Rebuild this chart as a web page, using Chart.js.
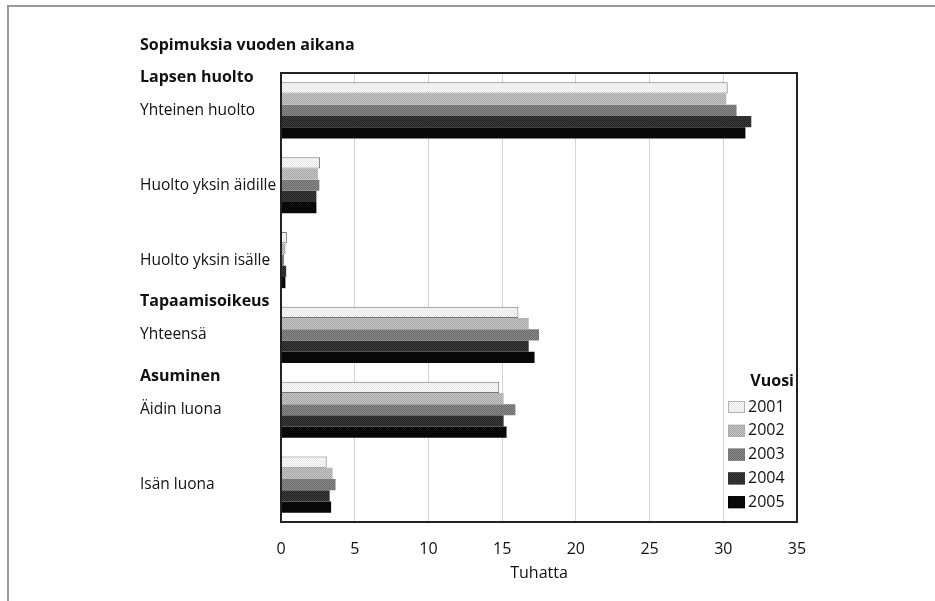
<!DOCTYPE html>
<html>
<head>
<meta charset="utf-8">
<script src="https://cdn.jsdelivr.net/npm/chart.js@4.4.1/dist/chart.umd.min.js"></script>
<style>
    html, body { margin: 0; padding: 0; background: #fff; }
    #wrap { position: relative; width: 935px; height: 601px; }
    #frame { position: absolute; left: 7px; top: 5px; right: 0; bottom: 0; border-left: 2px solid #999; border-top: 2px solid #999; }
    #chart { position: absolute; left: 0; top: 0; }
</style>
</head>
<body>
<div id="wrap">
    <div id="frame"></div>
    <canvas id="chart" width="935" height="601"></canvas>
</div>
<script>
const FONT = "'Open Sans', sans-serif";

const categories = ['Yhteinen huolto', 'Huolto yksin äidille', 'Huolto yksin isälle', 'Yhteensä', 'Äidin luona', 'Isän luona'];
const sectionTitles = ['Lapsen huolto', 'Tapaamisoikeus', 'Asuminen'];
const sectionStart = [0, 3, 4];
const years = ['2001', '2002', '2003', '2004', '2005'];

const v2001 = [30.3, 2.65, 0.4, 16.1, 14.8, 3.1];
const v2002 = [30.2, 2.5, 0.3, 16.8, 15.1, 3.5];
const v2003 = [30.9, 2.6, 0.2, 17.5, 15.9, 3.7];
const v2004 = [31.9, 2.4, 0.35, 16.8, 15.1, 3.3];
const v2005 = [31.5, 2.4, 0.3, 17.2, 15.3, 3.4];

const xTicks = [0, 5, 10, 15, 20, 25, 30, 35];

// rasteroidut harmaasävyt kuten painetussa kuvassa
function halftone(light, dark) {
    const c = document.createElement('canvas');
    c.width = 2; c.height = 2;
    const g = c.getContext('2d');
    g.fillStyle = light; g.fillRect(0, 0, 2, 2);
    g.fillStyle = dark; g.fillRect(0, 0, 1, 1); g.fillRect(1, 1, 1, 1);
    return g.createPattern(c, 'repeat');
}

const fills = [
    halftone('#fafafa', '#e6e6e6'),
    halftone('#c8c8c8', '#a4a4a4'),
    halftone('#8e8e8e', '#666666'),
    halftone('#3e3e3e', '#222222'),
    halftone('#0e0e0e', '#000000')
];
const borders = ['#777777', '#aaaaaa', '#777777', '#333333', '#000000'];
const seriesValues = [v2001, v2002, v2003, v2004, v2005];

const extras = {
    id: 'extras',
    afterDraw(chart) {
        const { ctx, chartArea: a, scales: { y } } = chart;
        ctx.save();
        // kuvaajan kehys
        ctx.strokeStyle = '#222';
        ctx.lineWidth = 2;
        ctx.strokeRect(a.left, a.top, a.right - a.left, a.bottom - a.top);

        ctx.fillStyle = '#111';
        ctx.textBaseline = 'middle';
        ctx.textAlign = 'left';
        ctx.font = `bold 16px ${FONT}`;
        ctx.fillText('Sopimuksia vuoden aikana', y.left, 45);
        sectionTitles.forEach((t, i) => {
            ctx.fillText(t, y.left, y.getPixelForValue(sectionStart[i]) - 33);
        });

        // selite
        const right = a.right - 3;
        ctx.textAlign = 'right';
        ctx.fillText('Vuosi', right, 381);
        ctx.font = `16px ${FONT}`;
        ctx.textAlign = 'left';
        chart.data.datasets.forEach((ds, i) => {
            const cy = 407 + i * 23.8;
            ctx.fillStyle = ds.backgroundColor;
            ctx.fillRect(728, cy - 6, 17, 12);
            ctx.strokeStyle = ds.borderColor;
            ctx.lineWidth = 1;
            ctx.setLineDash(i === 0 ? [1, 1] : []);
            ctx.strokeRect(728.5, cy - 5.5, 16, 11);
            ctx.setLineDash([]);
            ctx.fillStyle = '#111';
            ctx.fillText(ds.label, 748, cy);
        });
        ctx.restore();
    }
};

new Chart(document.getElementById('chart'), {
    type: 'bar',
    data: {
        labels: categories,
        datasets: years.map((yr, i) => ({
            label: yr,
            data: seriesValues[i],
            backgroundColor: fills[i],
            borderColor: borders[i],
            borderWidth: i === 0 ? 1 : 0,
            categoryPercentage: 0.75,
            barPercentage: 1.0
        }))
    },
    options: {
        indexAxis: 'y',
        responsive: false,
        animation: false,
        layout: { padding: { left: 140, top: 73, right: 138, bottom: 0 } },
        plugins: {
            legend: { display: false },
            tooltip: { enabled: false }
        },
        scales: {
            x: {
                min: 0,
                max: 35,
                afterBuildTicks: (scale) => { scale.ticks = xTicks.map(v => ({ value: v })); },
                afterFit: (scale) => { scale.height = 79; },
                grid: { color: '#d4d4d4', lineWidth: 1, drawTicks: false },
                border: { display: false },
                ticks: { color: '#111', padding: 18, font: { family: FONT, size: 16 } },
                title: { display: true, text: 'Tuhatta', color: '#111', font: { family: FONT, size: 16 }, padding: { top: 4, bottom: 18 } }
            },
            y: {
                afterFit: (scale) => { scale.width = 141; },
                grid: { display: false },
                border: { display: false },
                ticks: { color: '#111', crossAlign: 'far', font: { family: FONT, size: 15.5 } }
            }
        }
    },
    plugins: [extras]
});
</script>
</body>
</html>
